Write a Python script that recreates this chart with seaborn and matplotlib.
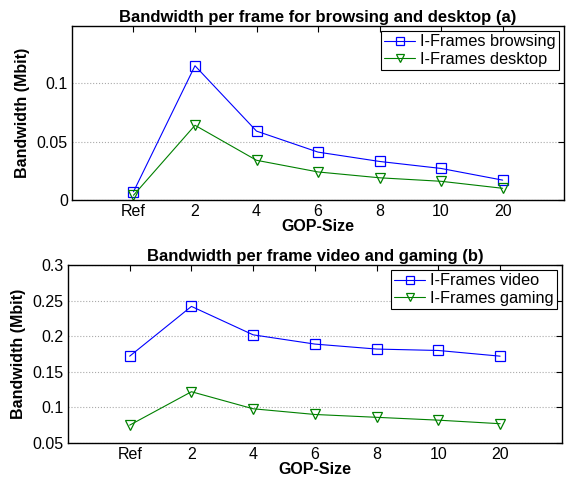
import matplotlib
matplotlib.use('Agg')
import matplotlib.pyplot as plt
import seaborn as sns
import pandas as pd

gop_labels = ['Ref', '2', '4', '6', '8', '10', '20']

browsing = [0.007, 0.115, 0.059, 0.041, 0.033, 0.027, 0.017]
desktop = [0.004, 0.064, 0.034, 0.024, 0.019, 0.016, 0.010]
video = [0.172, 0.242, 0.202, 0.189, 0.182, 0.180, 0.172]
gaming = [0.075, 0.122, 0.098, 0.090, 0.086, 0.082, 0.077]

sns.set_theme(style='white')
plt.rcParams['font.family'] = ['Liberation Sans', 'DejaVu Sans']
plt.rcParams['xtick.direction'] = 'in'
plt.rcParams['ytick.direction'] = 'in'
plt.rcParams['axes.edgecolor'] = 'black'
plt.rcParams['axes.linewidth'] = 1.0
plt.rcParams['text.color'] = 'black'
plt.rcParams['axes.labelcolor'] = 'black'
plt.rcParams['xtick.color'] = 'black'
plt.rcParams['ytick.color'] = 'black'


def draw_panel(ax, s1, s2, name1, name2, title, ylim, yticks, ytick_labels):
    pos = list(range(1, len(gop_labels) + 1))
    df = pd.DataFrame({'pos': pos * 2,
                       'val': s1 + s2,
                       'series': [name1] * len(pos) + [name2] * len(pos)})
    sns.lineplot(data=df, x='pos', y='val', hue='series', style='series',
                 palette=['#0000ff', '#008000'], markers=['s', 'v'],
                 dashes=False, ax=ax, linewidth=0.8, markersize=7,
                 markerfacecolor='none', markeredgewidth=0.9)
    # open markers: edge follows the line colour
    for line in ax.get_lines():
        line.set_markeredgecolor(line.get_color())
        line.set_markerfacecolor('none')
    ax.set_xlim(0, 8)
    ax.set_ylim(*ylim)
    ax.set_xticks(pos)
    ax.set_xticklabels(gop_labels, fontsize=11.5)
    ax.set_yticks(yticks)
    ax.set_yticklabels(ytick_labels, fontsize=11.5)
    ax.tick_params(top=True, right=True, length=4, width=0.8, color='black', pad=3)
    ax.yaxis.grid(True, linestyle=':', color='#aaaaaa', linewidth=0.8)
    ax.set_xlabel('GOP-Size', fontsize=11.5, fontweight='bold', labelpad=0)
    ax.set_ylabel('Bandwidth (Mbit)', fontsize=11.5, fontweight='bold', labelpad=5)
    ax.set_title(title, fontsize=12, fontweight='bold', pad=3)
    handles = ax.get_lines()[:2]
    leg = ax.legend(handles=handles, labels=[name1, name2], loc='upper right',
                    fontsize=11.8, frameon=True, fancybox=False, framealpha=1,
                    edgecolor='black', borderaxespad=0.3, handlelength=1.9,
                    borderpad=0.2, labelspacing=0.15, handletextpad=0.3,
                    markerscale=0.85)
    leg.get_frame().set_linewidth(0.8)


fig = plt.figure(figsize=(5.71, 4.83), dpi=100)
ax1 = fig.add_axes([0.126, 0.586, 0.862, 0.360])
ax2 = fig.add_axes([0.119, 0.083, 0.865, 0.368])

draw_panel(ax1, browsing, desktop, 'I-Frames browsing', 'I-Frames desktop',
           'Bandwidth per frame for browsing and desktop (a)',
           (0, 0.149), [0, 0.05, 0.1], ['0', '0.05', '0.1'])
draw_panel(ax2, video, gaming, 'I-Frames video', 'I-Frames gaming',
           'Bandwidth per frame video and gaming (b)',
           (0.05, 0.3), [0.05, 0.1, 0.15, 0.2, 0.25, 0.3],
           ['0.05', '0.1', '0.15', '0.2', '0.25', '0.3'])

fig.savefig('out.png', dpi=100)
